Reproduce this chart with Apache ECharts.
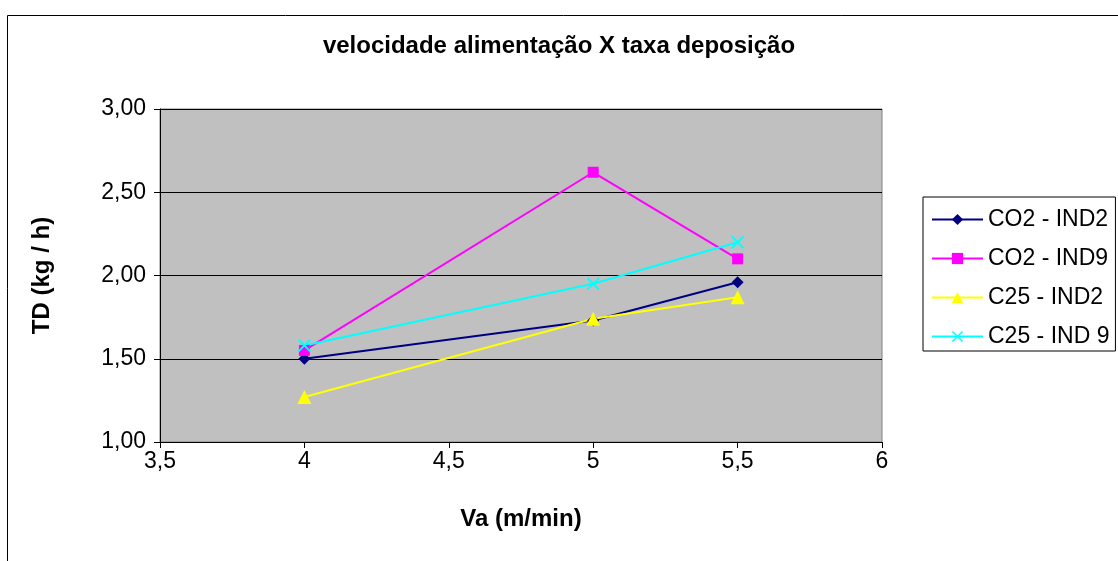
<!DOCTYPE html>
<html><head><meta charset="utf-8">
<script src="https://cdn.jsdelivr.net/npm/echarts@6/dist/echarts.min.js"></script>
<style>html,body{margin:0;padding:0;background:#fff}#c{width:1118px;height:561px}</style>
</head><body><div id="c"></div>
<script>
const xValues = [4, 5, 5.5];
const seriesNames = ['CO2 - IND2', 'CO2 - IND9', 'C25 - IND2', 'C25 - IND 9'];
const co2Ind2 = [1.50, 1.73, 1.96];
const co2Ind9 = [1.55, 2.62, 2.10];
const c25Ind2 = [1.27, 1.74, 1.87];
const c25Ind9 = [1.58, 1.95, 2.20];
const titleText = 'velocidade alimentação X taxa deposição';
const xName = 'Va (m/min)';
const yName = 'TD (kg / h)';

const font = 'Liberation Sans, Arial, sans-serif';
const crossPath = 'path://M0,1 L1,0 L5,4 L9,0 L10,1 L6,5 L10,9 L9,10 L5,6 L1,10 L0,9 L4,5 Z';
function pts(v){ return xValues.map((x,i)=>[x,v[i]]); }
const styles = [
  {color:'#000080', symbol:'diamond', size:12},
  {color:'#FF00FF', symbol:'rect', size:11},
  {color:'#FFFF00', symbol:'triangle', size:14},
  {color:'#00FFFF', symbol:crossPath, size:13}
];
const data = [co2Ind2, co2Ind9, c25Ind2, c25Ind9];

const chart = echarts.init(document.getElementById('c'), null, {renderer:'canvas'});
chart.setOption({
  backgroundColor:'#fff',
  animation:false,
  graphic:[{type:'rect', shape:{x:7.5,y:15.5,width:1120,height:560}, style:{fill:'none', stroke:'#000', lineWidth:1}, z:-10}],
  title:{text:titleText, left:'center', top:29, textStyle:{fontFamily:font, fontSize:24, fontWeight:'bold', color:'#000'}},
  grid:{left:160, top:109, right:236, bottom:119, show:true, backgroundColor:'#C0C0C0', borderColor:'#808080', borderWidth:1},
  legend:{
    orient:'vertical', left:923, top:197,
    data:seriesNames,
    itemWidth:51, itemHeight:14, itemGap:16,
    padding:[11,6,3,8],
    borderColor:'#000', borderWidth:1, backgroundColor:'#fff',
    textStyle:{fontFamily:font, fontSize:23, color:'#000', lineHeight:23}
  },
  xAxis:{
    type:'value', min:3.5, max:6, interval:0.5,
    name:xName, nameLocation:'middle', nameGap:65,
    nameTextStyle:{fontFamily:font, fontSize:24, fontWeight:'bold', color:'#000'},
    axisLine:{lineStyle:{color:'#000'}},
    axisTick:{show:true, inside:false, length:6, lineStyle:{color:'#000'}},
    axisLabel:{fontFamily:font, fontSize:23, color:'#000', margin:8, formatter:v=>String(v).replace('.',',')},
    splitLine:{show:false}
  },
  yAxis:{
    type:'value', min:1, max:3, interval:0.5,
    name:yName, nameLocation:'middle', nameGap:106, nameRotate:90,
    nameTextStyle:{fontFamily:font, fontSize:24, fontWeight:'bold', color:'#000'},
    axisLine:{show:true, lineStyle:{color:'#000'}},
    axisTick:{show:true, length:6, lineStyle:{color:'#000'}},
    axisLabel:{fontFamily:font, fontSize:23, color:'#000', margin:14, formatter:v=>v.toFixed(2).replace('.',',')},
    splitLine:{show:true, lineStyle:{color:'#000', width:1}}
  },
  series: data.map((d,i)=>({
    name:seriesNames[i], type:'line', data:pts(d),
    symbol:styles[i].symbol, symbolSize:styles[i].size,
    lineStyle:{color:styles[i].color, width:2},
    itemStyle:{color:styles[i].color},
    emphasis:{disabled:true}
  }))
});
</script></body></html>
